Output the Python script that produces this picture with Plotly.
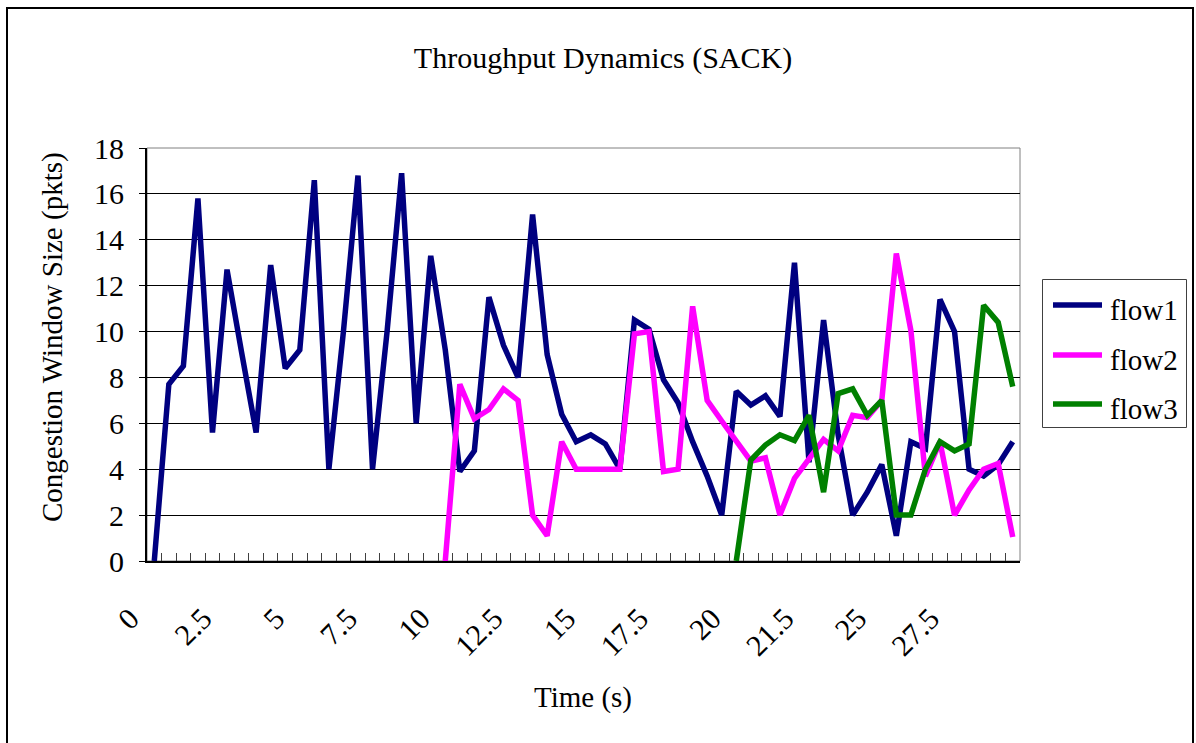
import plotly.graph_objects as go

# Congestion window samples (pkts), one per sample slot
flow1 = [0, 7.7, 8.5, 15.8, 5.6, 12.7, 9.1, 5.6, 12.9, 8.4,
         9.2, 16.6, 4.0, 10.0, 16.8, 4.0, 10.0, 16.9, 6.0, 13.3,
         9.2, 3.9, 4.8, 11.5, 9.4, 8.0, 15.1, 9.0, 6.4, 5.2,
         5.5, 5.1, 4.0, 10.5, 10.1, 7.9, 6.9, 5.2, 3.7, 2.0,
         7.4, 6.8, 7.2, 6.3, 13.0, 4.3, 10.5, 5.5, 2.0, 3.0,
         4.2, 1.1, 5.2, 4.9, 11.4, 10.0, 4.0, 3.7, 4.2, 5.2]
flow2 = [None] * 20 + [
         0, 7.7, 6.2, 6.6, 7.5, 7.0, 2.0, 1.1, 5.2, 4.0,
         4.0, 4.0, 4.0, 9.9, 10.0, 3.9, 4.0, 11.1, 7.0, 6.1,
         5.2, 4.35, 4.5, 2.0, 3.6, 4.5, 5.3, 4.8, 6.35, 6.25,
         7.0, 13.4, 10.05, 3.7, 5.2, 2.0, 3.1, 4.0, 4.25, 1.05]
flow3 = [None] * 40 + [
         0, 4.4, 5.05, 5.5, 5.25, 6.35, 3.0, 7.3, 7.5, 6.35,
         7.0, 2.0, 2.0, 4.0, 5.2, 4.8, 5.1, 11.15, 10.4, 7.6]

series_names = ["flow1", "flow2", "flow3"]
series_colors = ["#000080", "#FF00FF", "#008000"]

samples = list(range(len(flow1)))
tick_samples = [0, 5, 10, 15, 20, 25, 30, 35, 40, 45, 50, 55]
tick_labels = ["0", "2.5", "5", "7.5", "10", "12.5", "15", "17.5",
               "20", "21.5", "25", "27.5"]

FONT = "Liberation Serif"
W, H = 1196, 743
L, R, T, B = 147, 1020, 148, 561  # plot area in pixels


def px(x):
    return (x - L) / (R - L)


def py(y):
    return (B - y) / (B - T)


fig = go.Figure()
for name, vals, col in zip(series_names, [flow1, flow2, flow3], series_colors):
    fig.add_trace(go.Scatter(
        x=samples, y=vals, name=name, mode="lines",
        line=dict(color=col, width=5.5), connectgaps=False, showlegend=False,
    ))

shapes = [
    # plot area frame
    dict(type="rect", xref="paper", yref="paper", x0=0, y0=0, x1=1, y1=1,
         line=dict(color="#808080", width=1), layer="below"),
    # outer chart frame
    dict(type="rect", xref="paper", yref="paper",
         x0=px(7), y0=py(770), x1=px(1193), y1=py(8),
         line=dict(color="#000000", width=2)),
    # legend box
    dict(type="rect", xref="paper", yref="paper",
         x0=px(1042.5), y0=py(427.5), x1=px(1186.5), y1=py(279.5),
         line=dict(color="#404040", width=1), fillcolor="white"),
]
annotations = []
legend_rows = [305, 355, 404]
for name, col, yy in zip(series_names, series_colors, legend_rows):
    shapes.append(dict(type="line", xref="paper", yref="paper",
                       x0=px(1053), x1=px(1102), y0=py(yy), y1=py(yy),
                       line=dict(color=col, width=5.5)))
    annotations.append(dict(xref="paper", yref="paper", x=px(1108), y=py(yy + 5),
                            text=name, showarrow=False, xanchor="left",
                            yanchor="middle",
                            font=dict(family=FONT, size=29, color="black")))

annotations.append(dict(xref="paper", yref="paper", x=px(583), y=py(697),
                        text="Time (s)", showarrow=False,
                        xanchor="center", yanchor="middle",
                        font=dict(family=FONT, size=29, color="black")))
annotations.append(dict(xref="paper", yref="paper", x=px(52), y=py(337),
                        text="Congestion Window Size (pkts)", showarrow=False,
                        textangle=-90, xanchor="center", yanchor="middle",
                        font=dict(family=FONT, size=29, color="black")))

fig.update_layout(
    width=W, height=H, autosize=False,
    margin=dict(l=L, r=W - R, t=T, b=H - B, pad=0),
    paper_bgcolor="white", plot_bgcolor="white",
    title=dict(text="Throughput Dynamics (SACK)", x=603 / W, xanchor="center",
               y=1 - 57 / H, yanchor="middle", yref="container",
               font=dict(family=FONT, size=30, color="black")),
    shapes=shapes, annotations=annotations,
    xaxis=dict(
        range=[-0.5, len(samples) - 0.5], showgrid=False, zeroline=False,
        showline=True, linecolor="#000000", linewidth=2,
        tickmode="array", tickvals=tick_samples, ticktext=tick_labels,
        ticks="", tickangle=-45, ticklabelshift=-24, ticklabelstandoff=26,
        tickfont=dict(family=FONT, size=30, color="black"),
        minor=dict(tickvals=[s + 0.5 for s in samples[:-1]], ticks="inside",
                   ticklen=8, tickcolor="#404040", tickwidth=1),
    ),
    yaxis=dict(
        range=[0, 18], dtick=2, tick0=0, showgrid=True, gridcolor="#000000",
        gridwidth=1, zeroline=False, showline=True, linecolor="#000000",
        linewidth=2, ticks="outside", ticklen=6, tickcolor="#000000",
        ticklabelstandoff=9,
        tickfont=dict(family=FONT, size=30, color="black"),
    ),
)

fig.write_html("out.html")
